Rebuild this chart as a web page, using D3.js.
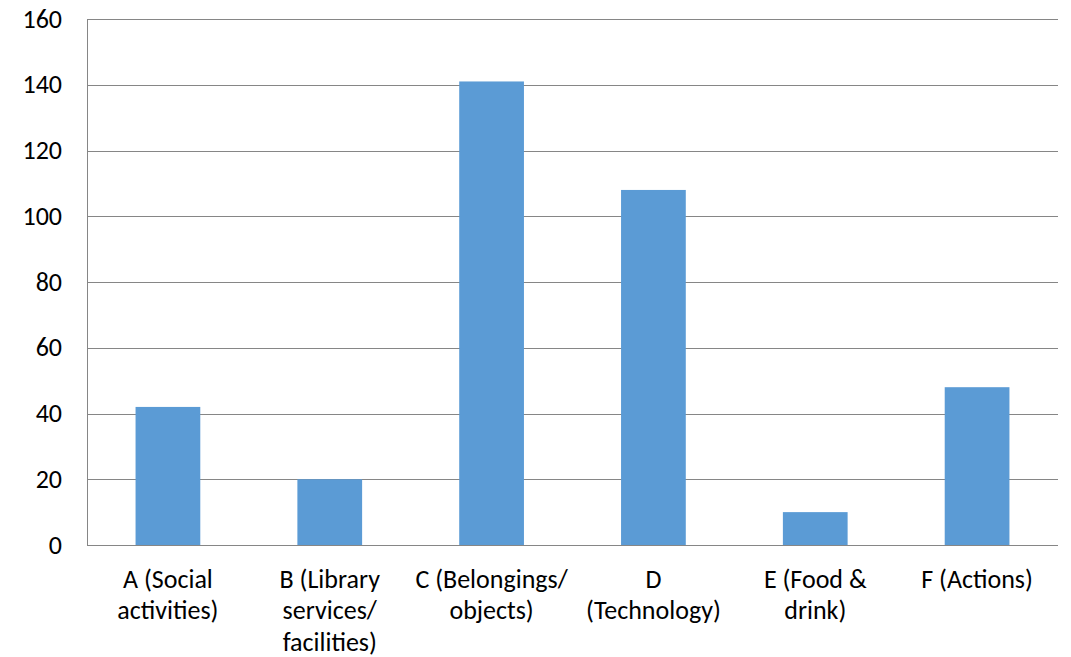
<!DOCTYPE html>
<html>
<head>
<meta charset="utf-8">
<script src="https://cdn.jsdelivr.net/npm/d3@7"></script>
<style>
  html, body { margin: 0; padding: 0; background: #fff; }
  svg { display: block; }
  text { font-family: Calibri, Carlito, "Open Sans", sans-serif; fill: #000; }
</style>
</head>
<body>
<script>
// Category names, split into the lines they are drawn on
const categories = ["A", "B", "C", "D", "E", "F"];
const categoryLines = [
  ["A (Social", "activities)"],
  ["B (Library", "services/", "facilities)"],
  ["C (Belongings/", "objects)"],
  ["D", "(Technology)"],
  ["E (Food &", "drink)"],
  ["F (Actions)"]
];
const counts = [42, 20, 141, 108, 10, 48];
const yTicks = [0, 20, 40, 60, 80, 100, 120, 140, 160];

const W = 1071, H = 657;
const margin = { top: 19, right: 13, bottom: 112, left: 87 };

const svg = d3.select("body").append("svg")
  .attr("width", W).attr("height", H);

const x = d3.scaleBand()
  .domain(categories)
  .range([margin.left, W - margin.right])
  .paddingInner(0).paddingOuter(0);

const y = d3.scaleLinear()
  .domain([0, 160])
  .range([H - margin.bottom, margin.top]);

const gridColor = "#868686";

// Horizontal gridlines
svg.append("g")
  .selectAll("line")
  .data(yTicks)
  .join("line")
  .attr("x1", margin.left).attr("x2", W - margin.right)
  .attr("y1", d => Math.round(y(d)) + 0.5)
  .attr("y2", d => Math.round(y(d)) + 0.5)
  .attr("stroke", gridColor).attr("stroke-width", 1);

// Bars: 40% of each category band, centred
const barW = x.bandwidth() * 0.4;
svg.append("g")
  .selectAll("rect")
  .data(categories)
  .join("rect")
  .attr("x", (d) => x(d) + (x.bandwidth() - barW) / 2)
  .attr("width", barW)
  .attr("y", (d, i) => y(counts[i]))
  .attr("height", (d, i) => y(0) - y(counts[i]))
  .attr("fill", "#5B9BD5");

// Value axis line
svg.append("line")
  .attr("x1", margin.left + 0.5).attr("x2", margin.left + 0.5)
  .attr("y1", y(160)).attr("y2", y(0))
  .attr("stroke", gridColor);

// Category axis line
svg.append("line")
  .attr("x1", margin.left).attr("x2", W - margin.right)
  .attr("y1", Math.round(y(0)) + 0.5).attr("y2", Math.round(y(0)) + 0.5)
  .attr("stroke", gridColor);

// Value axis labels
svg.append("g")
  .selectAll("text")
  .data(yTicks)
  .join("text")
  .attr("x", 62)
  .attr("y", d => y(d) + 8.5)
  .attr("text-anchor", "end")
  .attr("font-size", 26)
  .text(d => d);

// Category labels
const lab = svg.append("g")
  .selectAll("text")
  .data(categories)
  .join("text")
  .attr("text-anchor", "middle")
  .attr("font-size", 26);
lab.each(function (d, i) {
  const cx = x(d) + x.bandwidth() / 2;
  d3.select(this).selectAll("tspan")
    .data(categoryLines[i])
    .join("tspan")
    .attr("x", cx)
    .attr("y", (t, j) => 587.5 + j * 31.5)
    .text(t => t);
});
</script>
</body>
</html>
